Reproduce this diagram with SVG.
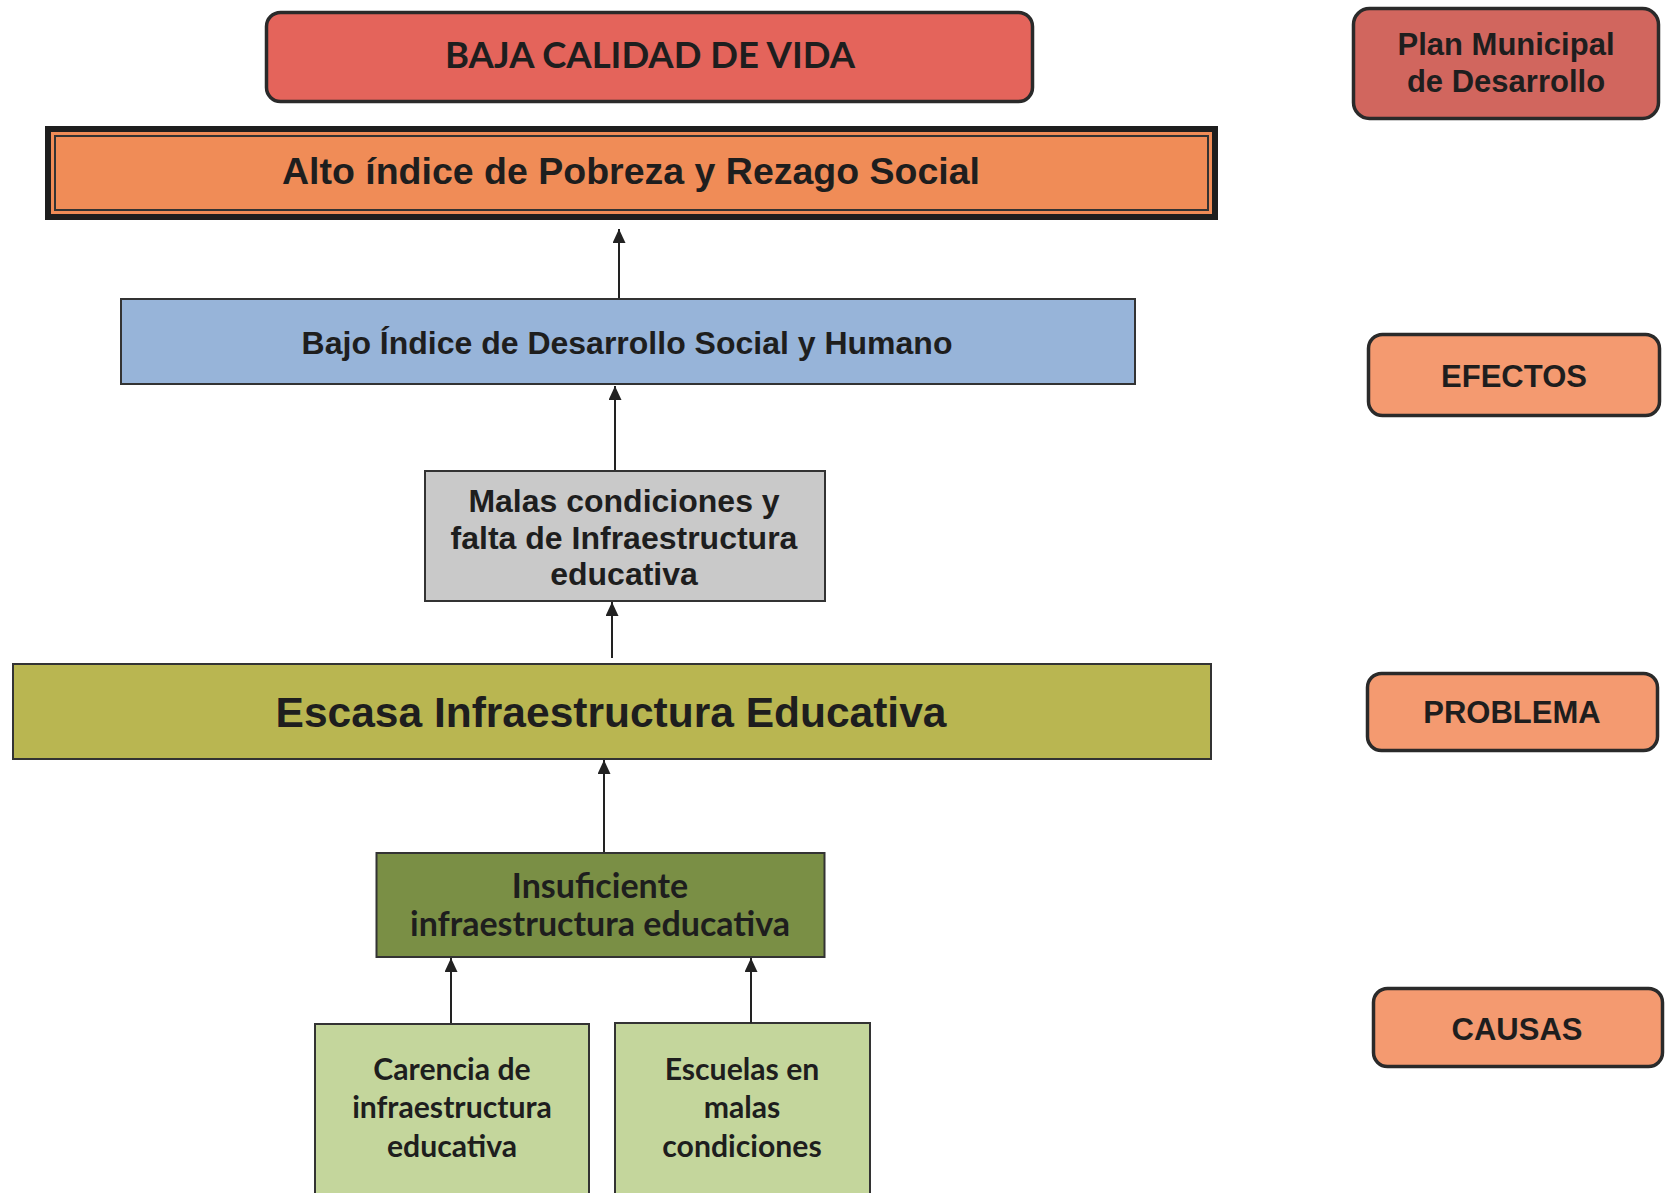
<svg xmlns="http://www.w3.org/2000/svg" width="1670" height="1193" viewBox="0 0 1670 1193">
<defs>
<marker id="ah" markerUnits="userSpaceOnUse" markerWidth="14" markerHeight="14" refX="14" refY="6.5" orient="auto">
<path d="M0,0 L14,6.5 L0,13 Z" fill="#222"/>
</marker>
<style>
.box{stroke:#333;stroke-width:2}
.rbox{stroke:#2a2a2a;stroke-width:3.5}
.ar{font-family:"Liberation Sans",Arial,sans-serif;font-weight:bold;fill:#1e1e1e;text-anchor:middle}
.ca{font-family:Lato,"Open Sans",sans-serif;font-weight:bold;fill:#1e1e1e;text-anchor:middle}
.conn line{stroke:#222;stroke-width:2;marker-end:url(#ah)}
</style>
</defs>
<rect width="1670" height="1193" fill="#ffffff"/>

<g id="baja">
<rect class="rbox" x="266.5" y="12.5" width="766" height="89" rx="14" fill="#E4645B"/>
<text class="ca" x="650" y="68" font-size="36.5">BAJA CALIDAD DE VIDA</text>
</g>

<g id="alto">
<rect x="48" y="129" width="1167" height="88" fill="#F08C57" stroke="#1e1e1e" stroke-width="6"/>
<rect x="55" y="136" width="1153" height="74" fill="none" stroke="#333" stroke-width="2"/>
<text class="ar" x="631" y="184" font-size="37.5">Alto índice de Pobreza y Rezago Social</text>
</g>

<g id="bajo">
<rect class="box" x="121" y="299" width="1014" height="85" fill="#97B4D9"/>
<text class="ar" x="627" y="354" font-size="32">Bajo Índice de Desarrollo Social y Humano</text>
</g>

<g id="malas">
<rect class="box" x="425" y="471" width="400" height="130" fill="#C9C9C9"/>
<text class="ar" x="624" y="512" font-size="32">Malas condiciones y</text>
<text class="ar" x="624" y="548.5" font-size="32">falta de Infraestructura</text>
<text class="ar" x="624" y="585" font-size="32">educativa</text>
</g>

<g id="escasa">
<rect class="box" x="13" y="664" width="1198" height="95" fill="#B9B651"/>
<text class="ar" x="611" y="727" font-size="42.5">Escasa Infraestructura Educativa</text>
</g>

<g id="insuficiente">
<rect class="box" x="376.5" y="853" width="448" height="104" fill="#7A8F45"/>
<text class="ca" x="600" y="898" font-size="34">Insuficiente</text>
<text class="ca" x="600" y="936" font-size="34">infraestructura educativa</text>
</g>

<g id="carencia">
<rect class="box" x="315" y="1024" width="274" height="180" fill="#C4D69C"/>
<text class="ca" x="452" y="1080" font-size="30.2">Carencia de</text>
<text class="ca" x="452" y="1118" font-size="30.2">infraestructura</text>
<text class="ca" x="452" y="1157" font-size="30.2">educativa</text>
</g>

<g id="escuelas">
<rect class="box" x="615" y="1023" width="255" height="180" fill="#C4D69C"/>
<text class="ca" x="742" y="1080" font-size="30.2">Escuelas en</text>
<text class="ca" x="742" y="1118" font-size="30.2">malas</text>
<text class="ca" x="742" y="1157" font-size="30.2">condiciones</text>
</g>

<g id="plan">
<rect class="rbox" x="1353.5" y="8.5" width="305" height="110" rx="16" fill="#D1665E"/>
<text class="ar" x="1506" y="55" font-size="31">Plan Municipal</text>
<text class="ar" x="1506" y="92" font-size="31">de Desarrollo</text>
</g>

<g id="efectos">
<rect class="rbox" x="1368.5" y="334.5" width="291" height="81" rx="14" fill="#F49A70"/>
<text class="ar" x="1514" y="387" font-size="31">EFECTOS</text>
</g>

<g id="problema">
<rect class="rbox" x="1367.5" y="673.5" width="290" height="77" rx="14" fill="#F49A70"/>
<text class="ar" x="1512" y="723" font-size="31">PROBLEMA</text>
</g>

<g id="causas">
<rect class="rbox" x="1373.5" y="988.5" width="289" height="78" rx="14" fill="#F49A70"/>
<text class="ar" x="1517" y="1040" font-size="31">CAUSAS</text>
</g>

<g id="connectors" class="conn">
<line x1="619" y1="298" x2="619" y2="229"/>
<line x1="615" y1="470" x2="615" y2="386"/>
<line x1="612" y1="658" x2="612" y2="602"/>
<line x1="604" y1="852" x2="604" y2="760"/>
<line x1="451" y1="1023" x2="451" y2="958"/>
<line x1="751" y1="1023" x2="751" y2="958"/>
</g>
</svg>
